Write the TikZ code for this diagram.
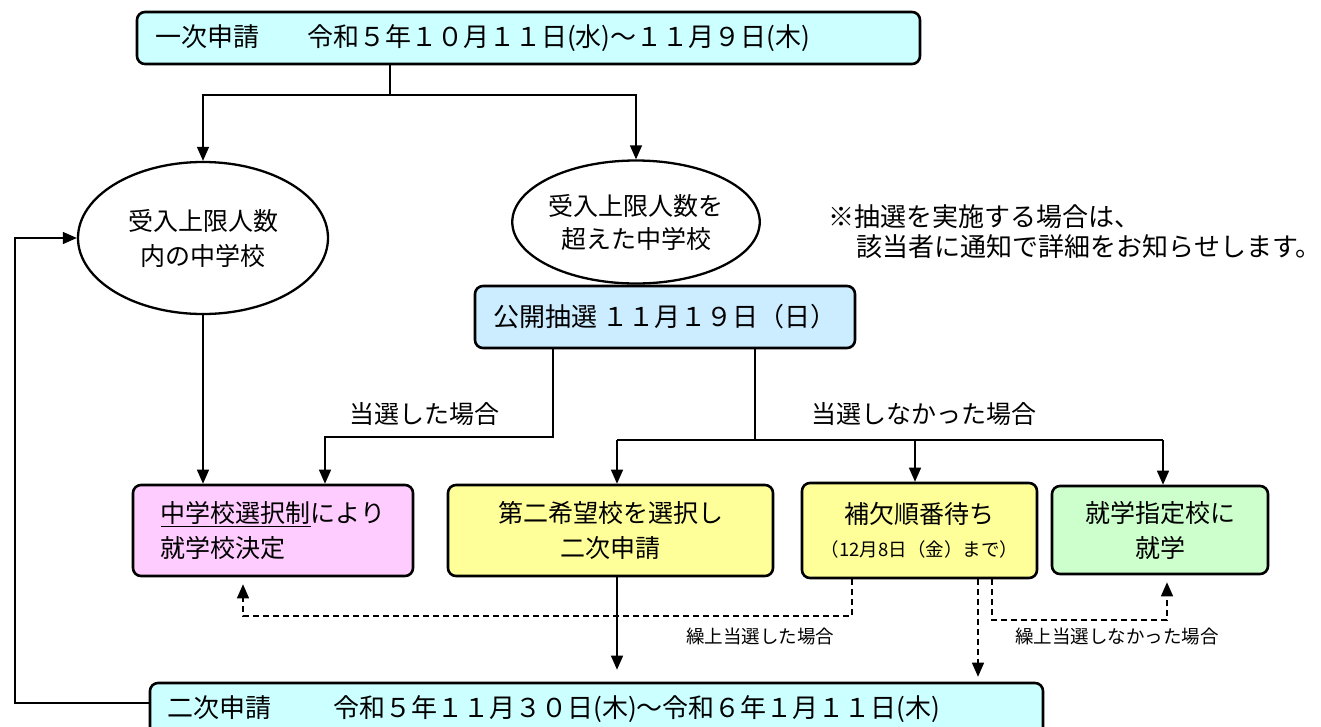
\documentclass[tikz,border=0pt]{standalone}
\usepackage{fontspec}
\setmainfont{Noto Sans CJK JP}
\usetikzlibrary{shapes,arrows.meta}

\definecolor{appcyan}{HTML}{CCFFFF}
\definecolor{drawblue}{HTML}{CCECFF}
\definecolor{choicepink}{HTML}{FFCCFF}
\definecolor{waityellow}{HTML}{FFFF99}
\definecolor{assigngreen}{HTML}{CCFFCC}
\newcommand{\bigtext}{\fontsize{25}{35}\selectfont}
\newcommand{\boxtext}{\fontsize{26}{35}\selectfont}
\newcommand{\smalltext}{\fontsize{18.5}{22}\selectfont}

\begin{document}
\begin{tikzpicture}[x=1pt,y=-1pt,
  every node/.style={font=\bigtext},
  box/.style={draw,line width=2.6pt,rounded corners=8pt,inner sep=0pt},
  oval/.style={draw,ellipse,line width=2.3pt,inner sep=0pt,align=center},
  link/.style={line width=1.3pt,-{Triangle[length=14pt,width=12pt]}},
  dlink/.style={link,dash pattern=on 6pt off 4pt}]
\useasboundingbox (0,0) rectangle (1321,726);
\clip (0,0) rectangle (1321,726);

% applications
\node[box,fill=appcyan,minimum height=52pt,text width=747pt,inner xsep=18pt,align=left,font=\boxtext] (apply1) at (528.5,38) {一次申請\hspace{1.85em}令和５年１０月１１日(水)～１１月９日(木)};
\node[box,fill=appcyan,minimum height=52pt,text width=859pt,inner xsep=17pt,align=left,font=\boxtext] (apply2) at (596.5,709) {二次申請\hspace{2.4em}令和５年１１月３０日(木)～令和６年１月１１日(木)};

% schools
\node[oval,minimum width=250pt,minimum height=152pt] (within) at (203,238) {受入上限人数\\内の中学校};
\node[oval,minimum width=243pt,minimum height=123pt,font=\fontsize{25}{33}\selectfont] (over) at (636,222) {受入上限人数を\\超えた中学校};
\node[anchor=north west,align=left,inner sep=0pt,font=\fontsize{26}{30}\selectfont] (note) at (828,204) {※抽選を実施する場合は、\\\hspace*{1.1em}該当者に通知で詳細をお知らせします。};

\node[box,fill=drawblue,minimum width=380pt,minimum height=62pt,font=\boxtext] (lottery) at (665,317) {公開抽選 １１月１９日（日）};

% results
\node[box,fill=choicepink,minimum width=280pt,minimum height=91pt,align=left] (choice) at (273,530.5) {\underline{中学校選択制}により\\就学校決定};
\node[box,fill=waityellow,minimum width=325pt,minimum height=91pt,align=center] (second) at (610.5,530.5) {第二希望校を選択し\\二次申請};
\node[box,fill=waityellow,minimum width=235pt,minimum height=95pt,align=center] (waiting) at (919.5,530.5) {補欠順番待ち\\[-2pt]{\smalltext （12月8日（金）まで）}};
\node[box,fill=assigngreen,minimum width=216pt,minimum height=88pt,align=center] (assigned) at (1160,530) {就学指定校に\\就学};

% labels
\node (wonlbl) at (424,414) {当選した場合};
\node (lostlbl) at (924,414) {当選しなかった場合};
\node[font=\smalltext] (upwonlbl) at (760,636) {繰上当選した場合};
\node[font=\smalltext] (uplostlbl) at (1117,636) {繰上当選しなかった場合};

% connectors
\coordinate (split) at (390,95);
\draw[line width=1.3pt] (apply1.south -| split) -- (split);
\draw[link] (split) -| (within.north);
\draw[link] (split) -| (over.north);
\draw[link] (within.south) -- (within.south |- choice.north);

\coordinate (wonturn) at (553,437);
\coordinate (wonend) at (325,437);
\draw[link] (lottery.south -| wonturn) -- (wonturn) -- (wonend) -- (wonend |- choice.north);

\coordinate (lostturn) at (755,440);
\coordinate (lostleft) at (617,440);
\coordinate (lostright) at (1163,440);
\draw[line width=1.3pt] (lottery.south -| lostturn) -- (lostturn);
\draw[line width=1.3pt] (lostleft) -- (lostright);
\draw[link] (lostleft) -- (lostleft |- second.north);
\draw[link] (lostturn -| 915,0) -- (915,0 |- waiting.north);
\draw[link] (lostright) -- (lostright |- assigned.north);

\draw[link,shorten >=12pt] (lostleft |- second.south) -- (lostleft |- apply2.north);

\coordinate (upwonA) at (852,616);
\coordinate (upwonB) at (243,616);
\draw[dlink,shorten >=7pt] (waiting.south -| upwonA) -- (upwonA) -- (upwonB) -- (upwonB |- choice.south);
\coordinate (downwait) at (978,600);
\draw[dlink,shorten >=5pt] (waiting.south -| downwait) -- (downwait |- apply2.north);
\coordinate (uplostA) at (992,620);
\coordinate (uplostB) at (1167,620);
\draw[dlink,shorten >=7pt] (waiting.south -| uplostA) -- (uplostA) -- (uplostB) -- (uplostB |- assigned.south);

\coordinate (loopbot) at (15,703);
\coordinate (looptop) at (15,238);
\draw[link] (apply2.west |- loopbot) -- (loopbot) -- (looptop) -- (within.west);
\end{tikzpicture}
\end{document}
